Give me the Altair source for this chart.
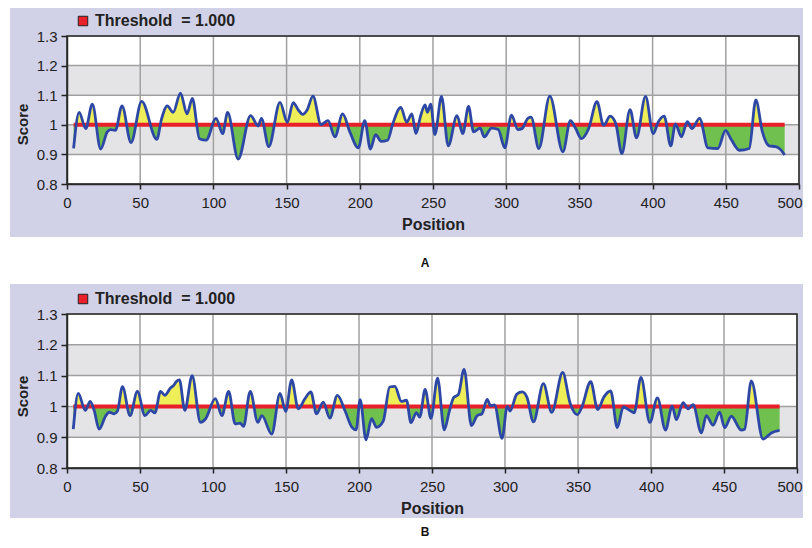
import altair as alt
import pandas as pd

# ---------------- data ----------------
a_pos = [4.5, 8.3, 12.8, 17.3, 23, 27.5, 29.7, 33, 37.6, 43.7, 51, 61.3, 64.6, 68.5, 72.5,
         77.5, 82, 85.6, 90.5, 95, 101.8, 106.3, 109.7, 116.9, 125.4, 130.6, 132.8, 137.8,
         145.5, 150.5, 154.5, 158, 161, 164, 168, 173.5, 178.3, 183, 188.3, 193.2, 199,
         203.4, 207.2, 210.8, 214.6, 219, 222.5, 228, 232, 235.6, 238.3, 241.7, 244.6,
         246.2, 248.4, 251.3, 255.8, 260.4, 266.4, 270.3, 274.3, 277.7, 282.2, 285, 290,
         294.6, 299, 303.6, 308, 310.8, 314.8, 317, 322.3, 329.8, 338.7, 343.9, 347.3,
         351.4, 356.3, 362, 366.5, 371, 374.9, 379, 384.6, 389, 395.2, 400.4, 403.8,
         407.9, 412.4, 415.6, 419.7, 423.7, 426.9, 432.1, 437.8, 444.6, 449.8, 453.6,
         459.3, 466, 470.5, 475, 479.6, 484, 487, 490.2]
a_score = [0.920, 1.042, 0.987, 1.070, 0.918, 0.976, 0.984, 0.981, 1.064, 0.940, 1.079,
           0.951, 1.020, 1.064, 1.042, 1.107, 1.037, 1.089, 0.953, 0.948, 1.022, 0.970,
           1.042, 0.884, 1.031, 0.996, 1.022, 0.926, 1.076, 1.008, 1.075, 1.050, 1.035,
           1.050, 1.097, 1.001, 1.014, 0.959, 1.037, 0.976, 0.922, 1.014, 0.918, 0.967,
           0.944, 0.948, 1.003, 1.059, 1.009, 1.037, 0.970, 1.033, 1.067, 1.042, 1.070,
           0.967, 1.096, 0.929, 1.031, 0.970, 1.062, 0.976, 0.989, 0.959, 0.989, 0.984,
           0.922, 1.033, 0.984, 0.987, 1.022, 1.026, 0.920, 1.097, 0.909, 1.014, 0.989,
           0.953, 0.987, 1.078, 0.998, 1.029, 1.003, 0.903, 1.051, 0.956, 1.096, 0.970,
           1.009, 1.029, 0.929, 1.003, 0.959, 1.011, 0.987, 1.022, 0.922, 0.920, 0.981,
           0.951, 0.914, 0.920, 1.084, 0.976, 0.929, 0.926, 0.918, 0.898]

b_pos = [4.3, 7.7, 12.5, 15.9, 18.6, 22, 26.6, 28.9, 32.3, 34.5, 38, 43.2, 48.2, 53.4,
         57.3, 60.2, 64.1, 67, 70.9, 73.2, 74.8, 77, 80.7, 85.7, 91.4, 94.8, 101.6, 106.1,
         110.7, 115.2, 118.6, 120.9, 125.5, 130.7, 133.5, 140.2, 145.9, 149.8, 153.9,
         158.4, 163, 167, 170.9, 175.5, 180, 185.2, 190.5, 194.8, 198, 200.8, 204.8,
         208.6, 212, 216.6, 221, 224.6, 229, 232.5, 235.6, 239.3, 241.6, 245.3, 249.3,
         253.8, 258.4, 261.8, 264.9, 268, 272, 277, 281, 284.2, 287.8, 290, 292.8, 298,
         301.5, 303.5, 308.1, 311.8, 315, 319.5, 326.3, 332, 339.5, 344.5, 349.5, 352.5,
         358.7, 363.5, 367.8, 372.4, 376.9, 381, 385.5, 388.5, 393.1, 399.2, 404.4,
         409.9, 414.5, 417.4, 422, 425.4, 428.8, 434.5, 437.9, 442.5, 447, 450.5, 455,
         461.8, 464.1, 468.7, 476.7, 482.4, 488.1]
b_score = [0.926, 1.042, 0.987, 1.016, 0.987, 0.926, 0.970, 0.981, 0.976, 0.984, 1.064,
           0.970, 1.049, 0.970, 0.987, 0.979, 1.049, 1.036, 1.060, 1.069, 1.080, 1.086,
           0.987, 1.100, 0.948, 0.959, 1.025, 0.970, 1.049, 0.943, 0.946, 0.935, 1.049,
           0.948, 0.970, 0.910, 1.042, 0.984, 1.086, 0.992, 1.025, 1.047, 0.976, 1.014,
           0.962, 1.036, 0.985, 0.935, 0.924, 1.022, 0.891, 0.960, 0.932, 0.952, 1.063,
           1.065, 1.016, 1.020, 0.947, 0.980, 0.965, 1.055, 0.961, 1.092, 0.924, 0.983,
           1.029, 1.038, 1.120, 0.938, 0.970, 0.976, 1.023, 1.002, 1.005, 0.896, 1.000,
           0.985, 1.040, 1.047, 1.030, 0.950, 1.074, 0.981, 1.110, 1.012, 0.973, 0.996,
           1.080, 0.990, 1.031, 1.050, 0.931, 0.998, 0.987, 0.979, 1.094, 0.948, 1.028,
           0.923, 1.001, 0.957, 1.012, 0.992, 1.006, 0.914, 0.970, 0.939, 0.981, 0.931,
           0.968, 0.923, 0.926, 1.083, 0.894, 0.914, 0.922]

x_ticks = [0, 50, 100, 150, 200, 250, 300, 350, 400, 450, 500]
y_ticks = [0.8, 0.9, 1.0, 1.1, 1.2, 1.3]
band_lo = [0.9, 1.1]
band_hi = [1.0, 1.2]
threshold = 1.0
legend_label = "Threshold\u00a0 = 1.000"
panel_names = ["A", "B"]

# ---------------- styles ----------------
LAV = "#d1d1e7"
BAND = "#e4e4e6"
GRID = "#a0a0a0"
FRAME = "#2a2a2a"
RED = "#e8202a"
BLUE = "#2c47a6"
YEL = "#eeee58"
GRN = "#6fc04e"
FONT = "Liberation Sans"


def panel(pos, score, name, W, H, lav_top, lav_bottom, lav_right, label_y, title_y,
          x_title_pad, last_off, spacer_bottom=None):
    df = pd.DataFrame({"Position": pos, "Score": score})
    thr = pd.DataFrame({"Position": [pos[0], pos[-1]], "Score": [threshold, threshold]})
    one = pd.DataFrame({"label": [legend_label], "name": [name]})
    bands = pd.DataFrame({"lo": band_lo, "hi": band_hi})
    xt = pd.DataFrame({"t": x_ticks})
    yt = pd.DataFrame({"t": y_ticks})

    xs = alt.Scale(domain=[0, 500], nice=False, zero=False)
    ys = alt.Scale(domain=[0.8, 1.3], nice=False, zero=False)

    last = x_ticks[-1]
    xaxis = alt.Axis(values=x_ticks, format="d", grid=False, labelFlush=False, labelOverlap=False,
                     labelAlign={"condition": {"test": f"datum.value >= {last}", "value": "right"},
                                 "value": "center"},
                     labelOffset={"condition": {"test": f"datum.value >= {last}", "value": last_off},
                                  "value": 0},
                     labelFont=FONT, labelFontSize=15, labelColor="#222", labelPadding=6,
                     tickSize=5, tickColor="#222", tickWidth=1.5, domainColor=FRAME, domainWidth=1.5,
                     title="Position", titleFont=FONT, titleFontSize=16, titleFontWeight="bold",
                     titleColor="#222", titlePadding=x_title_pad, zindex=1)
    yaxis = alt.Axis(values=y_ticks, format="~g", grid=False, labelFlush=False, labelOverlap=False,
                     labelFont=FONT, labelFontSize=15, labelColor="#222", labelPadding=4,
                     tickSize=6, tickColor="#222", tickWidth=1.5, domainColor=FRAME, domainWidth=1.5,
                     title="Score", titleFont=FONT, titleFontSize=15, titleFontWeight="bold",
                     titleColor="#222", titlePadding=6, titleY=title_y, zindex=1)

    vmax, vmin = max(score), min(score)
    off = (vmax - threshold) / (vmax - vmin)
    grad = alt.Gradient(gradient="linear", x1=0, x2=0, y1=0, y2=1,
                        stops=[alt.GradientStop(offset=0, color=YEL),
                               alt.GradientStop(offset=off, color=YEL),
                               alt.GradientStop(offset=off, color=GRN),
                               alt.GradientStop(offset=1, color=GRN)])

    layers = []
    layers.append(alt.Chart(one).mark_rect(color=LAV, clip=False).encode(
        x=alt.value(-57), x2=alt.value(W + lav_right), y=alt.value(lav_top), y2=alt.value(lav_bottom)))
    if spacer_bottom is not None:
        layers.append(alt.Chart(one).mark_rect(color="white", clip=False).encode(
            x=alt.value(0), x2=alt.value(1), y=alt.value(lav_bottom), y2=alt.value(spacer_bottom)))
    layers.append(alt.Chart(one).mark_rect(color="white").encode(
        x=alt.value(0), x2=alt.value(W), y=alt.value(0), y2=alt.value(H)))
    layers.append(alt.Chart(bands).mark_rect(color=BAND).encode(
        x=alt.value(0), x2=alt.value(W),
        y=alt.Y("lo:Q", scale=ys, axis=yaxis), y2="hi:Q"))
    layers.append(alt.Chart(xt).mark_rule(color=GRID, strokeWidth=1.5).encode(
        x=alt.X("t:Q", scale=xs, axis=xaxis), y=alt.value(0), y2=alt.value(H)))
    layers.append(alt.Chart(yt).mark_rule(color=GRID, strokeWidth=1.5).encode(
        y=alt.Y("t:Q", scale=ys, axis=yaxis), x=alt.value(0), x2=alt.value(W)))
    layers.append(alt.Chart(df).mark_area(interpolate="monotone", color=grad).encode(
        x=alt.X("Position:Q", scale=xs, axis=xaxis),
        y=alt.Y("Score:Q", scale=ys, axis=yaxis),
        y2=alt.datum(threshold)))
    layers.append(alt.Chart(thr).mark_line(color=RED, strokeWidth=4).encode(
        x=alt.X("Position:Q", scale=xs, axis=xaxis), y=alt.Y("Score:Q", scale=ys, axis=yaxis)))
    layers.append(alt.Chart(df).mark_line(interpolate="monotone", color=BLUE, strokeWidth=2.8).encode(
        x=alt.X("Position:Q", scale=xs, axis=xaxis), y=alt.Y("Score:Q", scale=ys, axis=yaxis)))
    layers.append(alt.Chart(one).mark_rect(filled=False, color=FRAME, strokeWidth=1.5).encode(
        x=alt.value(0), x2=alt.value(W), y=alt.value(0), y2=alt.value(H)))
    # legend
    layers.append(alt.Chart(one).mark_square(size=90, color=RED, stroke="#222", strokeWidth=1,
                                             filled=True, opacity=1, clip=False).encode(
        x=alt.value(16), y=alt.value(-15)))
    layers.append(alt.Chart(one).mark_text(align="left", baseline="middle", font=FONT, fontSize=16,
                                           fontWeight="bold", color="#222", clip=False).encode(
        x=alt.value(28), y=alt.value(-15), text="label:N"))
    # panel label
    layers.append(alt.Chart(one).mark_text(align="center", baseline="middle",
                                           font="Liberation Sans Narrow, Liberation Sans",
                                           fontSize=12, fontWeight="bold", color="#111", clip=False).encode(
        x=alt.value(358), y=alt.value(label_y), text="name:N"))

    return alt.layer(*layers).properties(width=W, height=H)


pa = panel(a_pos, a_score, panel_names[0], 732, 148, -28, 201, 12, 227, 88, 6, 3, spacer_bottom=248)
pb = panel(b_pos, b_score, panel_names[1], 730, 154, -30, 204, 14, 218, 82, 6, 5)

chart = alt.vconcat(pa, pb, spacing=0).properties(
    padding={"left": 2, "top": 0, "right": -8, "bottom": 0}, background="white"
).configure_view(strokeWidth=0)

chart.save("out.html", embed_options={"renderer": "svg", "actions": False})
